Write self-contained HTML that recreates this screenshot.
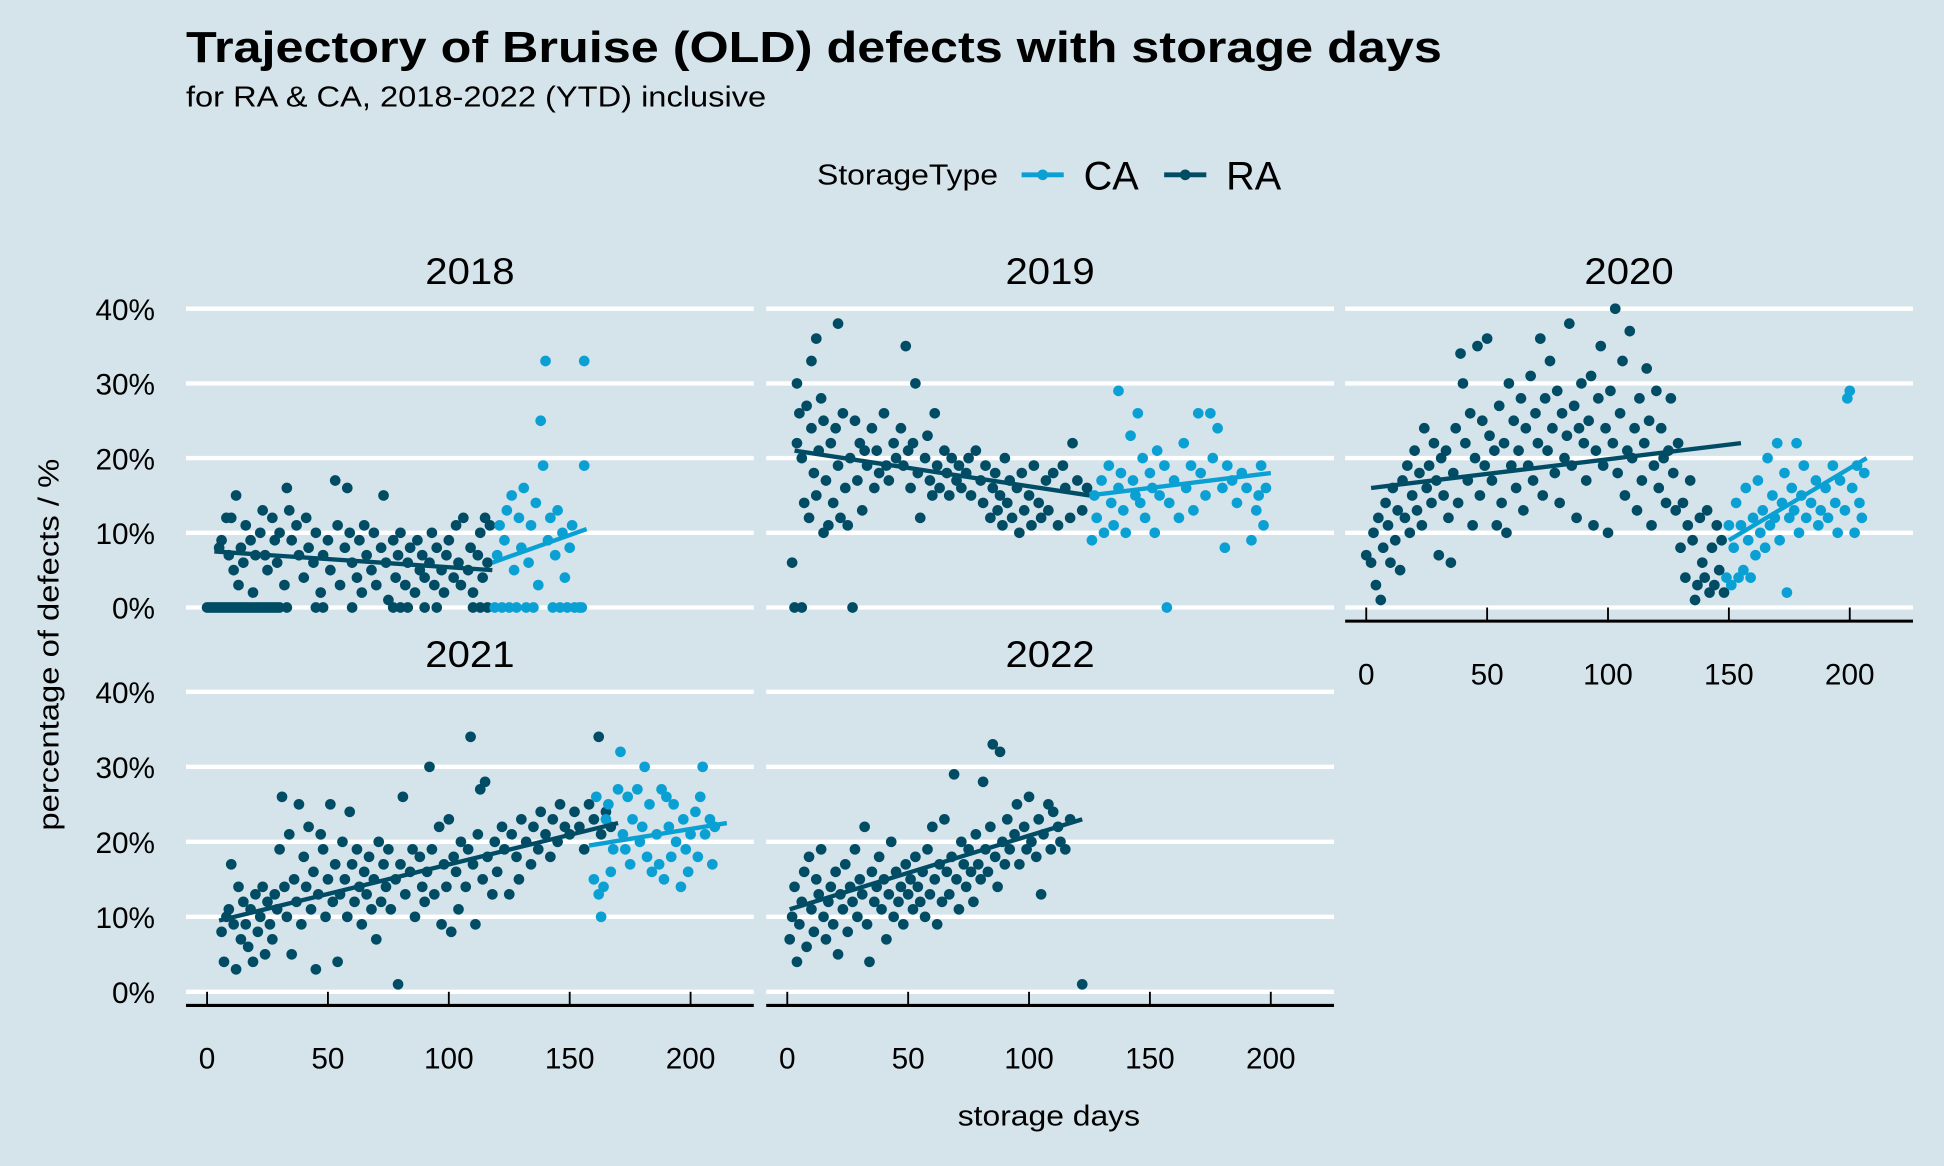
<!DOCTYPE html>
<html><head><meta charset="utf-8"><style>
html,body{margin:0;padding:0;background:#d5e3eb;}
svg{display:block;font-family:"Liberation Sans",Arial,sans-serif;}
</style></head><body>
<svg id="chart" width="1944" height="1166" viewBox="0 0 1568 940.5" xmlns="http://www.w3.org/2000/svg">
<rect width="1568" height="940.5" fill="#d5e3eb"/>
<text x="150" y="50" font-size="35" font-weight="bold" fill="#000" textLength="1013" lengthAdjust="spacingAndGlyphs">Trajectory of Bruise (OLD) defects with storage days</text>
<text x="150" y="86" font-size="23" fill="#000" textLength="468" lengthAdjust="spacingAndGlyphs">for RA &amp; CA, 2018-2022 (YTD) inclusive</text>
<g>
<text x="659" y="149" font-size="23" textLength="146" lengthAdjust="spacingAndGlyphs">StorageType</text>
<g><line x1="824" y1="141" x2="858" y2="141" stroke="#0aa0d4" stroke-width="4"/><circle cx="841" cy="141" r="4.3" fill="#0aa0d4"/><text x="874" y="153" font-size="32">CA</text></g>
<g><line x1="939" y1="141" x2="973" y2="141" stroke="#004c64" stroke-width="4"/><circle cx="956" cy="141" r="4.3" fill="#004c64"/><text x="989" y="153" font-size="32">RA</text></g>
</g>
<text transform="translate(47,520) rotate(-90)" text-anchor="middle" font-size="23" textLength="300" lengthAdjust="spacingAndGlyphs">percentage of defects / %</text>
<text x="846" y="908" text-anchor="middle" font-size="23" textLength="147" lengthAdjust="spacingAndGlyphs">storage days</text>
<g id="panels"></g>
</svg>
<script>
const years = ["2018","2019","2020","2021","2022"];
const yTicks = [0,10,20,30,40];
const yTickLabels = ["0%","10%","20%","30%","40%"];
const xTicks = [0,50,100,150,200];
const xTickLabels = ["0","50","100","150","200"];

const ra2018 = [[0,0],[1,0],[2,0],[3,0],[4,0],[5,0],[6,0],[7,0],[8,0],[9,0],[10,0],[11,0],[12,0],[13,0],[14,0],[15,0],[16,0],[17,0],[18,0],[19,0],[20,0],[21,0],[22,0],[23,0],[24,0],[25,0],[26,0],[27,0],[28,0],[29,0],[30,0],[33,0],[45,0],[48,0],[60,0],[77,0],[80,0],[83,0],[90,0],[95,0],[110,0],[113,0],[116,0],
[5,8],[6,9],[8,12],[9,7],[10,12],[11,5],[12,15],[13,3],[14,8],[15,6],[16,11],[18,9],[19,2],[20,7],[22,10],[23,13],[24,7],[25,5],[27,12],[28,9],[29,6],[30,10],[32,3],[33,16],[34,13],[35,9],[37,11],[38,7],[40,4],[41,12],[42,8],[44,6],[45,10],[47,2],[48,7],[50,9],[51,5],[53,17],[54,11],[55,3],[57,8],[58,16],[59,10],[60,6],[62,4],[63,9],[64,2],[65,11],[66,7],[68,5],[69,10],[70,3],[72,8],[73,15],[74,6],[75,1],[77,9],[78,4],[79,7],[80,10],[82,3],[83,6],[84,8],[86,2],[87,9],[88,5],[89,7],[90,4],[92,6],[93,10],[94,3],[95,8],[97,5],[98,2],[99,7],[100,9],[102,4],[103,11],[104,6],[105,3],[106,12],[108,5],[109,8],[110,2],[112,7],[113,10],[114,4],[115,12],[116,6],[117,11]];
const ca2018 = [[119,0],[120,7],[121,11],[122,0],[123,9],[124,13],[125,0],[126,15],[127,5],[128,0],[129,12],[130,8],[131,16],[132,0],[133,6],[134,11],[135,0],[136,14],[137,3],[138,25],[139,19],[140,33],[141,9],[142,12],[143,0],[144,7],[145,13],[146,0],[147,10],[148,4],[149,0],[150,8],[151,11],[152,0],[154,0],[156,33],[156,19],[155,0]];
const ra2019 = [[2,6],[3,0],[4,30],[4,22],[5,26],[6,0],[6,20],[7,14],[8,27],[9,12],[10,33],[10,24],[11,18],[12,36],[12,15],[13,21],[14,28],[15,10],[15,25],[16,17],[17,11],[18,22],[19,14],[20,24],[21,38],[21,19],[22,12],[23,26],[24,16],[25,11],[26,20],[27,0],[28,25],[29,17],[30,22],[31,13],[32,21],[33,19],[35,24],[36,16],[37,21],[38,18],[40,26],[41,19],[42,17],[44,22],[45,20],[47,24],[48,19],[49,35],[50,21],[51,16],[52,22],[53,30],[54,18],[55,12],[57,20],[58,23],[59,17],[60,15],[61,26],[62,19],[63,16],[65,21],[66,18],[67,15],[68,20],[70,17],[71,19],[72,16],[74,18],[75,20],[76,15],[78,21],[80,17],[81,14],[82,19],[84,12],[85,16],[86,18],[87,13],[88,15],[89,11],[90,20],[91,14],[92,17],[93,12],[95,16],[96,10],[97,18],[98,13],[100,15],[101,11],[102,19],[104,14],[105,12],[107,17],[108,13],[110,18],[112,11],[114,19],[115,16],[117,12],[118,22],[120,17],[122,13],[124,16]];
const ca2019 = [[126,9],[127,15],[128,12],[130,17],[131,10],[133,19],[134,14],[135,11],[137,29],[137,16],[138,18],[139,13],[140,10],[142,23],[143,17],[144,15],[145,26],[146,14],[147,20],[148,12],[150,18],[151,16],[152,10],[153,21],[154,15],[156,19],[157,0],[158,14],[160,17],[162,12],[164,22],[165,16],[167,19],[168,13],[170,26],[171,18],[173,15],[175,26],[176,20],[178,24],[180,16],[181,8],[182,19],[184,17],[186,14],[188,18],[190,16],[192,9],[194,13],[195,15],[196,19],[197,11],[198,16]];
const ra2020 = [[0,7],[2,6],[3,10],[4,3],[5,12],[6,1],[7,8],[8,14],[9,11],[10,6],[11,16],[12,9],[13,13],[14,5],[15,17],[16,12],[17,19],[18,10],[19,15],[20,21],[21,13],[22,18],[23,11],[24,24],[25,16],[26,19],[27,14],[28,22],[29,17],[30,7],[31,20],[32,15],[33,21],[34,12],[35,6],[36,18],[37,24],[38,14],[39,34],[40,30],[41,22],[42,17],[43,26],[44,11],[45,20],[46,35],[47,15],[48,25],[49,19],[50,36],[51,23],[52,17],[53,21],[54,11],[55,27],[56,14],[57,22],[58,10],[59,30],[60,19],[61,25],[62,16],[63,21],[64,28],[65,13],[66,24],[67,19],[68,31],[69,17],[70,26],[71,22],[72,36],[73,15],[74,28],[75,21],[76,33],[77,24],[78,18],[79,29],[80,14],[81,26],[82,20],[83,23],[84,38],[85,19],[86,27],[87,12],[88,24],[89,30],[90,22],[91,17],[92,25],[93,31],[94,11],[95,21],[96,28],[97,35],[98,19],[99,24],[100,10],[101,29],[102,22],[103,40],[104,18],[105,26],[106,33],[107,15],[108,21],[109,37],[110,20],[111,24],[112,13],[113,28],[114,17],[115,22],[116,32],[117,25],[118,11],[119,19],[120,29],[121,16],[122,24],[123,20],[124,14],[125,21],[126,28],[127,18],[128,13],[129,22],[130,8],[131,14],[132,4],[133,11],[134,17],[135,9],[136,1],[137,3],[138,12],[139,6],[140,4],[141,13],[142,2],[143,8],[144,3],[145,11],[146,5],[147,9],[148,2]];
const ca2020 = [[149,4],[150,11],[151,3],[152,8],[153,14],[154,4],[155,11],[156,5],[157,16],[158,9],[159,4],[160,12],[161,7],[162,17],[163,10],[164,13],[165,8],[166,20],[167,11],[168,15],[169,12],[170,22],[171,9],[172,14],[173,18],[174,2],[175,12],[176,16],[177,13],[178,22],[179,10],[180,15],[181,19],[182,12],[184,14],[186,17],[187,11],[188,13],[190,16],[191,12],[193,19],[194,14],[195,10],[196,17],[198,13],[199,28],[200,29],[201,16],[202,10],[203,19],[204,14],[205,12],[206,18]];
const ra2021 = [[6,8],[7,4],[8,10],[9,11],[10,17],[11,9],[12,3],[13,14],[14,7],[15,12],[16,9],[17,6],[18,11],[19,4],[20,13],[21,8],[22,10],[23,14],[24,5],[25,12],[26,9],[27,7],[28,13],[29,11],[30,19],[31,26],[32,14],[33,10],[34,21],[35,5],[36,15],[37,12],[38,25],[39,9],[40,18],[41,14],[42,22],[43,11],[44,16],[45,3],[46,13],[47,21],[48,19],[49,10],[50,15],[51,25],[52,12],[53,17],[54,4],[55,13],[56,20],[57,15],[58,10],[59,24],[60,17],[61,12],[62,19],[63,14],[64,9],[65,16],[66,13],[67,18],[68,11],[69,15],[70,7],[71,20],[72,12],[73,17],[74,14],[75,19],[76,11],[78,15],[79,1],[80,17],[81,26],[82,13],[84,16],[85,19],[86,10],[88,18],[89,14],[90,12],[91,16],[92,30],[93,19],[94,13],[96,22],[97,9],[98,17],[99,14],[100,23],[101,8],[102,18],[103,16],[104,11],[105,20],[107,14],[108,19],[109,34],[110,17],[111,9],[112,21],[113,27],[114,15],[115,28],[116,18],[118,13],[119,20],[120,16],[122,22],[123,19],[125,13],[126,21],[128,18],[129,15],[130,23],[132,20],[134,17],[135,22],[137,19],[138,24],[140,21],[142,18],[143,23],[145,20],[146,25],[148,22],[150,21],[152,24],[154,22],[156,19],[158,25],[160,23],[162,34],[163,21],[165,24],[167,22]];
const ca2021 = [[160,15],[161,26],[162,13],[163,10],[164,14],[165,23],[166,25],[167,16],[168,19],[170,27],[171,32],[172,21],[173,19],[174,26],[175,17],[176,23],[178,27],[179,20],[180,22],[181,30],[182,18],[183,25],[184,16],[186,21],[187,17],[188,27],[189,15],[190,26],[191,22],[192,18],[193,25],[194,20],[196,14],[197,23],[198,19],[199,16],[200,21],[202,24],[203,18],[204,26],[205,30],[206,21],[208,23],[209,17],[210,22]];
const ra2022 = [[1,7],[2,10],[3,14],[4,4],[5,9],[6,12],[7,16],[8,6],[9,18],[10,11],[11,8],[12,15],[13,13],[14,19],[15,10],[16,7],[17,12],[18,14],[19,9],[20,16],[21,5],[22,13],[23,11],[24,17],[25,8],[26,14],[27,12],[28,19],[29,10],[30,15],[31,13],[32,22],[33,9],[34,4],[35,16],[36,12],[37,14],[38,18],[39,11],[40,15],[41,7],[42,13],[43,20],[44,10],[45,16],[46,12],[47,14],[48,9],[49,17],[50,13],[51,15],[52,11],[53,18],[54,14],[55,12],[56,16],[57,10],[58,19],[59,13],[60,22],[61,15],[62,9],[63,17],[64,12],[65,23],[66,16],[67,13],[68,18],[69,29],[70,15],[71,11],[72,20],[73,17],[74,14],[75,19],[76,16],[77,12],[78,21],[79,17],[80,15],[81,28],[82,19],[83,16],[84,22],[85,33],[86,18],[87,14],[88,32],[89,20],[90,17],[91,23],[92,19],[94,21],[95,25],[96,17],[98,22],[99,19],[100,26],[101,20],[103,18],[104,23],[105,13],[106,21],[108,25],[109,19],[110,24],[112,22],[113,20],[115,19],[117,23],[122,1]];
const ca2022 = [];

// trend lines: [startDay, startPct, endDay, endPct]
const trendRA = [[3,7.5,118,5],[3,21,125,15],[2,16,155,22],[5,9.5,170,22.5],[1,11,122,23]];
const trendCA = [[118,6,157,10.5],[125,15,200,18],[150,9,207,20],[158,19.5,215,22.5],null];

const raSets = [ra2018,ra2019,ra2020,ra2021,ra2022];
const caSets = [ca2018,ca2019,ca2020,ca2021,ca2022];

const NS = "http://www.w3.org/2000/svg";
const root = document.getElementById('panels');
const colLeft = [150,618,1085];
const rowZero = [490,800];
const rowScale = [6.025,6.05];
const cells = [[0,0],[1,0],[2,0],[0,1],[1,1]];
const hasXAxis = [false,false,true,true,true];
const RA_COL = "#004c64", CA_COL = "#0aa0d4";

function mk(tag, attrs, parent){
  const e = document.createElementNS(NS, tag);
  for (const k in attrs) e.setAttribute(k, attrs[k]);
  parent.appendChild(e);
  return e;
}

years.forEach((yr, i) => {
  const [c, r] = cells[i];
  const left = colLeft[c];
  const xs = d => left + 17 + d * 1.95;
  const ys = p => rowZero[r] - p * rowScale[r];
  const g = mk('g', {}, root);
  
  

  const strip = mk('text', {x: left + 229, y: ys(40) - 20, 'text-anchor': 'middle', 'font-size': 30, textLength: 72, lengthAdjust: 'spacingAndGlyphs'}, g);
  
  
  strip.textContent = yr;

  yTicks.forEach((t, k) => {
    const gl = mk('line', {x1: left, x2: left + 458, y1: ys(t), y2: ys(t), stroke: '#fff', 'stroke-width': 3.5}, g);
    
    
    if (c === 0) {
      const tl = mk('text', {x: 125, y: ys(t) + 9, 'text-anchor': 'end', 'font-size': 24}, g);
      
      
      tl.textContent = yTickLabels[k];
    }
  });

  if (hasXAxis[i]) {
    const ay = ys(0) + 11;
    const ax = mk('line', {x1: left, x2: left + 458, y1: ay, y2: ay, stroke: '#000', 'stroke-width': 2.5}, g);
    
    
    xTicks.forEach((t, k) => {
      const tk = mk('line', {x1: xs(t), x2: xs(t), y1: ys(0), y2: ay, stroke: '#000', 'stroke-width': 1.5}, g);
      
      
      const tl = mk('text', {x: xs(t), y: ay + 51, 'text-anchor': 'middle', 'font-size': 24}, g);
      
      
      tl.textContent = xTickLabels[k];
    });
  }

  [[raSets[i], RA_COL, 'ra'], [caSets[i], CA_COL, 'ca']].forEach(([set, col, nm]) => {
    set.forEach(([d, p]) => {
      const pt = mk('circle', {cx: xs(d), cy: ys(p), r: 4.3, fill: col}, g);
      
      
    });
  });

  [[trendRA[i], RA_COL, 'ra'], [trendCA[i], CA_COL, 'ca']].forEach(([t, col, nm]) => {
    if (!t) return;
    const ln = mk('line', {x1: xs(t[0]), y1: ys(t[1]), x2: xs(t[2]), y2: ys(t[3]), stroke: col, 'stroke-width': 3.5}, g);
    
    
  });
});
</script>
</body></html>
